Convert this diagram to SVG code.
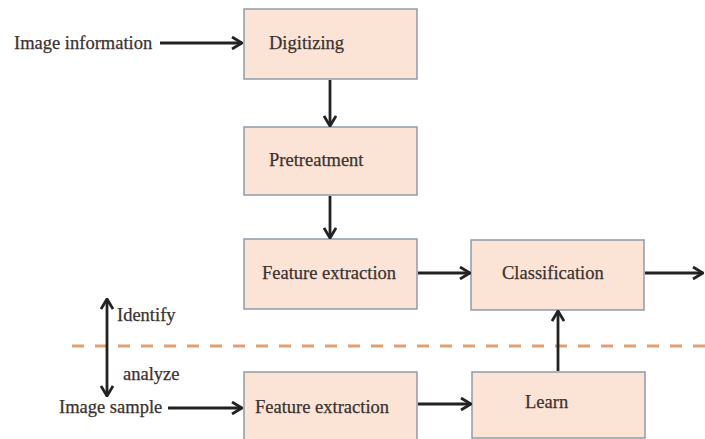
<svg xmlns="http://www.w3.org/2000/svg" width="705" height="439" viewBox="0 0 705 439">
<style>
.box{fill:#FBE4D5;stroke:#8E9CAB;stroke-width:1.5}
.t{font-family:"Liberation Serif","Times New Roman",serif;font-size:18.5px;fill:#3A3230;stroke:#3A3230;stroke-width:0.25}
.c{fill:none;stroke:#222;stroke-width:2.8}
.dash{fill:none;stroke:#E0A070;stroke-width:3;stroke-dasharray:12 11}
</style>
<defs>
<marker id="ah" viewBox="0 0 12 14" refX="11" refY="7" markerWidth="12" markerHeight="14" markerUnits="userSpaceOnUse" orient="auto-start-reverse">
<path d="M1,1 L11,7 L1,13" fill="none" stroke="#222" stroke-width="2.8"/>
</marker>
</defs>
<rect width="705" height="439" fill="#fff"/>
<line class="dash" x1="72" y1="346" x2="705" y2="346"/>
<g id="n-digitizing"><rect class="box" x="244" y="9" width="173" height="70"/><text class="t" x="269" y="49">Digitizing</text></g>
<g id="n-pretreatment"><rect class="box" x="244" y="127" width="173" height="68"/><text class="t" x="269" y="166">Pretreatment</text></g>
<g id="n-fe1"><rect class="box" x="244" y="239" width="173" height="70"/><text class="t" x="262" y="279">Feature extraction</text></g>
<g id="n-class"><rect class="box" x="471" y="240" width="173" height="70"/><text class="t" x="502" y="279">Classification</text></g>
<g id="n-fe2"><rect class="box" x="244" y="372" width="173" height="70"/><text class="t" x="255" y="413">Feature extraction</text></g>
<g id="n-learn"><rect class="box" x="472" y="372" width="173" height="66"/><text class="t" x="525" y="408">Learn</text></g>
<g id="labels">
<text class="t" x="14" y="49">Image information</text>
<text class="t" x="59" y="413">Image sample</text>
<text class="t" x="117" y="321">Identify</text>
<text class="t" x="123" y="380">analyze</text>
</g>
<g id="connectors">
<line class="c" x1="160" y1="43" x2="242" y2="43" marker-end="url(#ah)"/>
<line class="c" x1="330" y1="80" x2="330" y2="126" marker-end="url(#ah)"/>
<line class="c" x1="330" y1="196" x2="330" y2="238" marker-end="url(#ah)"/>
<line class="c" x1="418" y1="273" x2="470" y2="273" marker-end="url(#ah)"/>
<line class="c" x1="645" y1="273" x2="703" y2="273" marker-end="url(#ah)"/>
<line class="c" x1="558" y1="371" x2="558" y2="311" marker-end="url(#ah)"/>
<line class="c" x1="418" y1="404" x2="471" y2="404" marker-end="url(#ah)"/>
<line class="c" x1="168" y1="408" x2="242" y2="408" marker-end="url(#ah)"/>
<line class="c" x1="107" y1="299" x2="107" y2="396" marker-start="url(#ah)" marker-end="url(#ah)"/>
</g>
</svg>
